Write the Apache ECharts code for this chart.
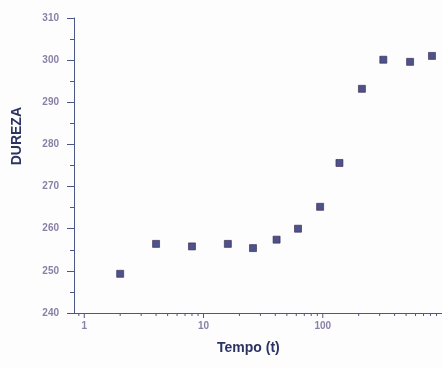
<!DOCTYPE html>
<html><head><meta charset="utf-8">
<script src="https://cdn.jsdelivr.net/npm/echarts@6/dist/echarts.min.js"></script>
<style>html,body{margin:0;padding:0;background:#fdfdfd;}#c{width:442px;height:368px;}</style>
</head><body><div id="c"></div>
<script>
const tempo = [2, 4, 8, 16, 26, 41, 62, 95, 138, 213, 322, 540, 824];
const dureza = [249.3, 256.4, 255.8, 256.4, 255.4, 257.4, 260.0, 265.2, 275.6, 293.2, 300.1, 299.6, 301.0];
const xMajorTicks = [1, 10, 100];
const xMinorTicks = [0.9, 2, 3, 4, 5, 6, 7, 8, 9, 20, 30, 40, 50, 60, 70, 80, 90, 200, 300, 400, 500, 600, 700, 800, 900];
const yTitle = 'DUREZA';
const xTitle = 'Tempo (t)';

const axisColor = '#4b5788';
const labelColor = '#8a80a6';
const chart = echarts.init(document.getElementById('c'));
function tickSeries(vals, len) {
  return {
    type: 'custom', silent: true, z: 5,
    data: vals.map(v => [v, 240]),
    renderItem: function (params, api) {
      const p = api.coord([api.value(0), api.value(1)]);
      return { type: 'line', shape: { x1: p[0], y1: p[1], x2: p[0], y2: p[1] + len },
        style: { stroke: axisColor, lineWidth: 1 } };
    }
  };
}
chart.setOption({
  backgroundColor: '#fdfdfd',
  animation: false,
  grid: { left: 74, right: -9, top: 18, bottom: 55, containLabel: false },
  xAxis: {
    type: 'log', min: 0.82, max: 1000, logBase: 10,
    axisLine: { lineStyle: { color: axisColor, width: 1 } },
    axisTick: { show: false },
    splitLine: { show: false },
    axisLabel: { color: labelColor, fontSize: 10, fontWeight: 'bold', fontFamily: 'Liberation Sans', margin: 8,
      formatter: v => (xMajorTicks.indexOf(Math.round(v * 1000) / 1000) >= 0 ? String(Math.round(v)) : ''),
      showMinLabel: false, showMaxLabel: false }
  },
  yAxis: {
    type: 'value', min: 240, max: 310, interval: 10,
    axisLine: { show: true, lineStyle: { color: axisColor, width: 1 } },
    axisTick: { show: true, length: 7, lineStyle: { color: axisColor } },
    minorTick: { show: true, splitNumber: 2, length: 4, lineStyle: { color: axisColor } },
    splitLine: { show: false },
    axisLabel: { color: labelColor, fontSize: 10, fontWeight: 'bold', fontFamily: 'Liberation Sans', margin: 15 }
  },
  graphic: [
    { type: 'text', left: 10, top: 107, rotation: Math.PI / 2,
      style: { text: yTitle, fill: '#2a3364', font: 'bold 14px "Liberation Sans"' } },
    { type: 'text', left: 217, top: 341,
      style: { text: xTitle, fill: '#2a3364', font: 'bold 14px "Liberation Sans"' } }
  ],
  series: [
    tickSeries(xMajorTicks, 5),
    tickSeries(xMinorTicks, 3),
    {
      type: 'scatter', symbol: 'rect', symbolSize: 7, z: 10, clip: false,
      itemStyle: { color: '#1f286e', borderColor: '#3a2850', borderWidth: 0.8 },
      data: tempo.map((t, i) => [t, dureza[i]])
    }
  ]
});
</script></body></html>
